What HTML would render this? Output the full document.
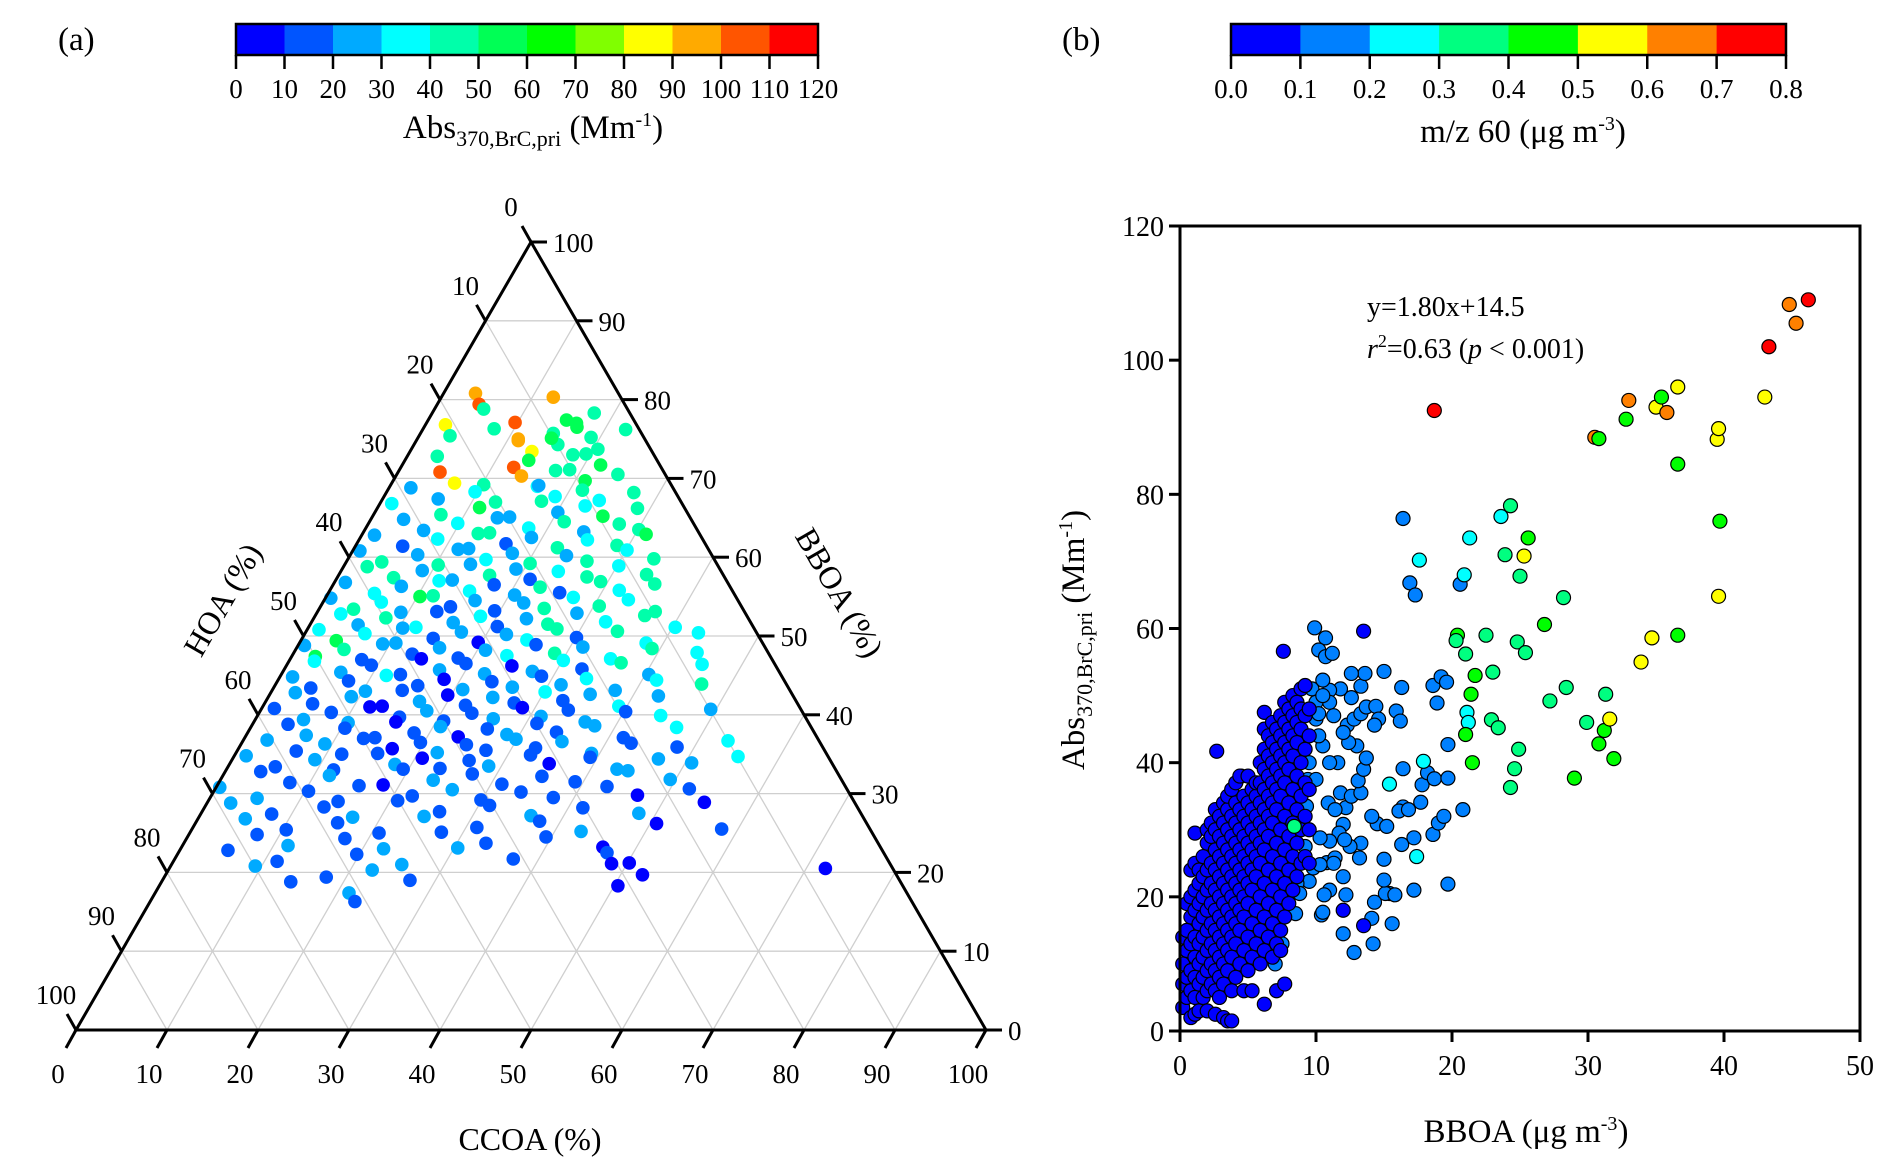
<!DOCTYPE html>
<html><head><meta charset="utf-8"><title>Ternary and scatter plots</title>
<style>
html,body{margin:0;padding:0;background:#fff;}
svg{display:block;font-family:"Liberation Serif","DejaVu Serif",serif;}
</style></head>
<body>
<svg id="fig" width="1892" height="1173" viewBox="0 0 1892 1173" xmlns="http://www.w3.org/2000/svg">
<g id="gA"></g>
<g id="gB"></g>
</svg>
<script>
// ---------- Panel (a) data: BBOA %, CCOA %, Abs370 Mm-1 ----------
const ternBBOA = [80.8,79.4,80.3, 78.8,77.4,78.3,77, 76.8,75.4,76.3,75,77.1,75.7,76.5,75.2,76.2, 74.8,73.4,74.3,73,75.1,73.7, 72.8,71.4,72.3,71,73.1,71.7, 70.8,69.4,70.3,69,71.1,69.7,70.5,69.2, 68.8,67.4,68.3,67,69.1,67.7,68.5,67.2,68.2, 66.8,65.4,66.3,65,67.1,65.7,66.5,65.2,66.2, 64.8,63.4,64.3,63,65.1,63.7,64.5,63.2,64.2,63.5, 62.8,61.4,62.3,61,63.1,61.7,62.5,61.2,62.2,61.5,62.9, 60.8,59.4,60.3,59,61.1,59.7,60.5,59.2,60.2,59.5,60.9,59.8, 58.8,57.4,58.3,57,59.1,57.7,58.5,57.2,58.2,57.5,58.9,57.8, 56.8,55.4,56.3,55,57.1,55.7,56.5,55.2,56.2,55.5,56.9,55.8,56.6, 54.8,53.4,54.3,53,55.1,53.7,54.5,53.2,54.2,53.5,54.9,53.8,54.6,53.1, 52.8,51.4,52.3,51,53.1,51.7,52.5,51.2,52.2,51.5,52.9,51.8,52.6,51.1, 50.8,49.4,50.3,49,51.1,49.7,50.5,49.2,50.2,49.5,50.9,49.8,50.6,49.1,50.4, 48.8,47.4,48.3,47,49.1,47.7,48.5,47.2,48.2,47.5,48.9,47.8,48.6,47.1,48.4,47.9, 46.8,45.4,46.3,45,47.1,45.7,46.5,45.2,46.2,45.5,46.9,45.8,46.6,45.1,46.4, 44.8,43.4,44.3,43,45.1,43.7,44.5,43.2,44.2,43.5,44.9,43.8,44.6,43.1,44.4,43.9, 42.8,41.4,42.3,41,43.1,41.7,42.5,41.2,42.2,41.5,42.9,41.8,42.6,41.1,42.4, 40.8,39.4,40.3,39,41.1,39.7,40.5,39.2,40.2,39.5,40.9,39.8,40.6,39.1,40.4,39.9,40.7, 38.8,37.4,38.3,37,39.1,37.7,38.5,37.2,38.2,37.5,38.9,37.8,38.6,37.1,38.4, 36.8,35.4,36.3,35,37.1,35.7,36.5,35.2,36.2,35.5,36.9,35.8,36.6,35.1,36.4,35.9,36.7, 34.8,33.4,34.3,33,35.1,33.7,34.5,33.2,34.2,33.5,34.9,33.8,34.6,33.1,34.4,33.9,34.7, 32.8,31.4,32.3,31,33.1,31.7,32.5,31.2,32.2,31.5,32.9,31.8, 30.8,29.4,30.3,29,31.1,29.7,30.5,29.2,30.2,29.5,30.9,29.8,30.6, 28.8,27.4,28.3,27,29.1,27.7,28.5,27.2,28.2,27.5,28.9, 26.8,25.4,26.3,25,27.1,25.7,26.5,25.2,26.2,25.5, 24.8,23.4,24.3,23,25.1,23.7,24.5,23.2, 22.8,21.4,22.3,21,23.1,21.7,22.5,21.2, 20.8,19.4,20.3,19,21.1,19.7,20.5, 18.8,17.4,18.3, 16.3];
const ternCCOA = [3.5,4.6,12.3, 5.4,15.2,17.8,16.5, 2.2,3.4,7.8,11.1,9.7,14.6,16.8,19,22.3, 11.2,13.4,15.8,18.1,14.7,20.5, 3.3,12.4,13.6,17.2,19.5,21.8, 4.6,6.9,13.8,16.2,18.7,21.1,24.3,10.2, 2.4,6.1,9.7,12.6,16.3,18.8,21.4,23.9,27.2, 1.3,7.4,11.2,13.8,17.6,20.1,22.7,25.3,28.6, 3.6,6.5,9.8,12.7,15.1,17.9,21.4,24.2,27.6,30.1, 1.4,5.2,8.6,11.5,13.9,16.4,18.8,22.3,25.1,28.7,31.2, 0.8,3.9,7.4,10.3,12.6,15.2,17.7,20.3,23.8,26.4,30.1,33.6, 2.6,6.2,8.9,11.4,13.8,16.6,19.1,21.3,23.9,27.4,30.2,33.8, 1.2,5.1,7.6,10.3,12.8,15.4,17.7,20.6,22.9,25.4,29.2,31.8,35.3, 0.6,3.8,6.4,9.2,11.7,14.3,16.6,19.4,22.1,24.7,27.2,30.6,33.4,37.1, 2.7,5.3,7.9,10.4,13.1,15.6,18.2,20.7,23.4,26.1,28.6,32.3,36.2,40.3, 1.3,3.9,6.6,9.2,11.8,14.4,17.1,19.6,22.2,24.8,27.4,30.1,34.2,38.1,43.2, 0.7,2.6,5.3,7.9,10.6,13.1,15.7,18.4,20.9,23.6,26.1,28.7,31.4,35.2,39.1,44.3, 2.8,6.4,9.3,11.6,14.4,17.1,19.6,22.3,24.8,27.4,30.1,32.7,36.6,40.4,45.6, 1.4,4.1,7.8,10.3,13.1,15.7,18.2,20.9,23.6,26.2,28.7,31.4,33.8,37.7,41.6,46.8, 2.7,5.3,9.1,11.8,14.3,16.9,19.6,22.2,24.7,27.4,30.1,32.6,35.2,39.1,42.8, 1.4,5.3,7.9,10.4,13.1,15.7,18.3,20.8,23.4,26.1,28.6,31.2,33.8,36.4,40.2,44.3,49.4, 3.9,6.6,10.4,13.1,15.6,18.3,20.8,23.4,26.1,28.6,31.2,33.9,37.7,41.6,46.8, 2.6,6.5,9.2,11.7,14.3,16.9,19.6,22.1,24.8,27.3,29.9,32.6,35.1,39.1,42.8,48.1,53.3, 1.3,5.2,9.1,11.8,15.6,18.2,20.8,23.4,26.1,28.6,32.5,35.1,39.2,42.9,46.8,50.7,55.4, 3.9,7.8,11.7,15.6,19.4,23.4,27.3,31.2,35.1,39.1,44.2,49.4, 0.4,5.2,10.4,14.3,18.2,22.1,26.1,29.9,33.8,37.7,42.9,46.8,52.1, 2.6,7.8,13.1,16.9,20.8,26.1,31.2,36.4,41.6,48.1,54.6, 5.2,10.4,15.6,20.8,24.7,31.2,37.7,42.9,50.7,58.2, 7.5,11.6,17.4,22.3,27.6,33.2,39.4,46.3, 5.3,11.4,19.7,25.3,30.4,37.2,47.1,50.2, 9.3,17.8,22.4,27.2,48.3,52.4,72.1, 14.2,21.3,50.4, 22.5];
const ternAbs = [95,105,93,45,55,48,50,82,45,46,95,105,47,55,48,46,96,85,47,48,58,46,44,100,58,46,49,55,105,84,95,35,45,50,47,46,25,22,33,40,25,34,48,37,46,35,47,52,28,46,25,38,55,45,24,26,38,45,25,35,45,25,48,40,22,18,32,27,44,18,26,42,35,47,52,25,40,28,47,24,38,20,42,28,46,38,42,45,42,22,35,27,44,23,12,36,45,30,48,28,38,26,55,22,33,15,26,40,18,42,35,45,22,48,34,24,40,18,28,12,24,46,30,40,36,42,35,27,47,22,15,26,38,16,28,42,25,38,44,32,38,56,30,20,35,12,24,8,20,30,40,18,45,37,33,25,55,40,18,28,14,22,10,25,35,15,42,28,38,45,30,32,22,14,30,8,20,12,28,9,22,36,18,40,28,33,26,18,10,24,12,18,6,22,14,28,10,25,38,20,35,40,22,14,28,8,16,24,9,18,25,12,30,16,22,35,25,18,24,12,20,7,14,22,10,16,24,8,20,14,26,18,30,25,16,22,10,18,6,15,20,9,14,22,12,18,28,15,33,22,14,20,12,18,8,15,22,10,16,26,12,20,24,12,18,32,20,15,24,10,14,20,8,16,12,20,14,8,18,26,22,20,34,18,12,20,16,10,22,12,18,10,14,22,26,28,20,14,18,8,16,24,12,18,10,14,8,16,22,15,10,20,14,16,10,24,12,20,8,24,12,18,10,22,14,12,20,9,14,16,20,12,24,14,18,10,8,18,12,16,24,20,14,10,6,24,10,20,16,8,9,7,14,26,6,12];
const ternTicks = [0,10,20,30,40,50,60,70,80,90,100];
const absBinEdges = [0,10,20,30,40,50,60,70,80,90,100,110,120];
const absColors = ["#0000ff","#0055ff","#00aaff","#00ffff","#00ffaa","#00ff55","#00ff00","#80ff00","#ffff00","#ffaa00","#ff5500","#ff0000"];

// ---------- Panel (b) data ----------
const blueColX = [0.2,0.5,0.8,1.1,1.4,1.7,2.0,2.3,2.6,2.9,3.2,3.5,3.8,4.1,4.4,4.7,5.0,5.3,5.6,5.9,6.2,6.5,6.8,7.1,7.4,7.7,8.0,8.3,8.6,8.9,9.2,9.5];
const blueColY = [[3.5,7,10,14],[5,8,12,15,19],[2,6,9,13,17,20,24],[2.5,5,8,11,14,18,21,25,29.5],[3,7,10,13,16,19,22,24],[5,8,11,14,17,20,23,26],[3,6,9,12,15,18,21,24,28,30],[7,10,13,16,19,22,25,29,31],[2.5,6,9,12,15,18,21,24,27,30,33],[5,8,11,14,17,20,23,26,29,32],[2,7,10,13,16,19,22,25,28,31,34],[1.5,9,12,15,18,21,24,27,30,33,35],[1.5,6,11,14,17,20,23,26,29,32,36],[8,13,16,19,22,25,28,31,34,37],[10,15,18,21,24,27,30,33,38],[6,12,17,20,23,26,29,32,35],[9,14,19,22,25,28,31,34,38],[6,11,16,21,24,27,30,33,36],[13,18,23,26,29,32,35,37],[10,15,20,25,28,31,34,37,40],[4,12,17,22,27,30,33,36,39,42,45,47.5],[14,19,24,29,32,35,38,41,44],[11,16,21,26,31,34,37,40,43,46],[6,13,18,23,28,33,36,39,42,45],[12,15,20,25,30,35,38,41,44,47],[7,17,22,27,32,37,40,43,46,49],[19,24,29,34,39,42,45,48],[21,26,31,36,41,44,47,50],[23,28,33,38,43,46,49],[25,30,35,40,45,48,51],[26,32,37,42,47,51.5],[25,30,36,44,48]];
const blueExtraX = [13.5,7.6,2.7,13.5,12.0];
const blueExtraY = [59.6,56.6,41.7,15.7,18.0];
const blueMz = 0.05;
const midX = [9.9,10.7,10.2,10.7,11.2,15,16.3,15.9,16.2,16.4,16.4,16.1,16.3,17.2,15.4,15.1,15.8,15.6,14.2,12.8,12,14.1,14.3,15,15,16.8,17.7,17.8,18.2,18.7,19.7,19.7,18.9,18.6,19.2,19.6,17.2,18.6,19,19.4,20.8,19.7,14.5,15.2,14.1,13.3,13.2,12.5,12,12.2,11.8,12.6,13.3,13.1,13.5,13.7,13,12.4,12.3,12.8,13.3,13.7,14.4,14.6,14.3,12.6,13.3,13.6,12.6,11.8,11,10.5,11,11.3,12,11.6,11,10.5,10.2,10,10.9,11.4,11.7,12.1,11,10.3,10.8,11.4,11.3,12,12.2,11,10.4,10.5,10.6,9.5,9.8,10.3,9.2,9.3,9.4,10,9.5,9,10,9.7,10.5,10.2,8,8.6,8.5,8.8,7,7,7.5,7.3,6.8,6.2,7.5,8,8.2,8.5,8.2,7.8,6.8,6.5,4.5,5.5,6,5.7,16.4,16.9,17.3,20.6];
const midY = [60.1,58.6,56.8,55.8,56.3,53.6,51.2,47.7,46.2,39.1,33.4,32.8,27.8,21,20.5,20.5,20.3,16,13,11.7,14.5,16.8,19.2,22.5,25.6,33,34.1,36.7,38.5,37.6,37.7,42.7,48.9,51.5,52.8,52,28.8,29.3,31,32,33,21.9,30.9,30.5,32,28,25.8,27.5,30.8,33.3,35.5,35,35.5,37.3,39,40.7,42.5,43,45.6,46.5,47.3,48.3,48.4,46.5,45.6,49.7,51.4,53.3,53.3,51,50.8,52.3,49,47,44.5,40,40,42.5,44,46.5,34,33,29.5,28.5,28.3,28.8,25.1,25.8,25,23,20.3,21,17.3,17.7,20.3,22.3,24.3,24.8,27.5,33.5,37.5,37.5,40,43,49,51,50,47.3,25,22,17.5,20.5,15.5,10,13,21.3,22.5,24.5,28,30.5,34,36,38,42,40,37.5,38,36,32,30,76.4,66.8,65,66.6];
const midMz = 0.15;
const hiX = [18.7,30.5,30.8,32.8,33,35,35.4,35.8,36.6,36.6,39.5,39.6,39.7,39.6,43,43.3,44.8,45.3,46.2,17.6,20.9,21.3,23.6,24.3,23.9,25.3,25,25.6,28.2,26.8,20.4,20.3,21,22.5,24.8,25.4,21.7,23,21.4,21.1,21.2,21,21.5,22.9,23.4,24.9,24.6,24.3,27.2,28.4,29.9,31.3,31.2,30.8,31.9,31.6,29,33.9,34.7,36.6,17.4,17.9,15.4,8.4];
const hiY = [92.5,88.5,88.3,91.2,94,93,94.5,92.2,96,84.5,88.2,89.8,76,64.8,94.5,102,108.3,105.5,109,70.2,68,73.5,76.7,78.3,71,70.8,67.8,73.5,64.6,60.6,59,58.2,56.2,59,58,56.4,53,53.5,50.2,47.5,46,44.2,40,46.4,45.2,42,39.1,36.3,49.2,51.2,46,50.2,44.8,42.8,40.6,46.5,37.7,55,58.6,59,26,40.2,36.8,30.5];
const hiMz = [0.75,0.65,0.45,0.45,0.65,0.55,0.45,0.65,0.55,0.45,0.55,0.55,0.45,0.55,0.55,0.75,0.65,0.65,0.75,0.25,0.25,0.25,0.25,0.35,0.35,0.55,0.35,0.45,0.35,0.45,0.45,0.35,0.35,0.35,0.35,0.35,0.45,0.35,0.45,0.25,0.25,0.45,0.45,0.35,0.35,0.35,0.35,0.35,0.35,0.35,0.35,0.35,0.45,0.45,0.45,0.55,0.45,0.55,0.55,0.45,0.25,0.25,0.25,0.35];
const xTicksB = [0,10,20,30,40,50];
const yTicksB = [0,20,40,60,80,100,120];
const mzBinEdges = [0.0,0.1,0.2,0.3,0.4,0.5,0.6,0.7,0.8];
const mzColors = ["#0000ff","#0080ff","#00ffff","#00ff80","#00ff00","#ffff00","#ff8000","#ff0000"];

const NS = "http://www.w3.org/2000/svg";
function mk(parent, tag, attrs, text){
  const e = document.createElementNS(NS, tag);
  for (const k in attrs) e.setAttribute(k, attrs[k]);
  if (text !== undefined) e.textContent = text;
  parent.appendChild(e);
  return e;
}
const gA = document.getElementById('gA');
const gB = document.getElementById('gB');

function colorbar(g, x0, x1, y0, y1, edges, colors, fmt, nameBase){
  const n = colors.length, w = (x1 - x0) / n;
  for (let i = 0; i < n; i++){
    const r = mk(g, 'rect', {x: x0 + i*w, y: y0, width: w + 0.5, height: y1 - y0, fill: colors[i]});
    
    
  }
  const fr = mk(g, 'rect', {x: x0, y: y0, width: x1 - x0, height: y1 - y0, fill: 'none', stroke: '#000', 'stroke-width': 2.5});
  
  
  for (let i = 0; i < edges.length; i++){
    const x = x0 + i*w;
    const t = mk(g, 'line', {x1: x, y1: y1, x2: x, y2: y1 + 14, stroke: '#000', 'stroke-width': 2.5});
    
    
    const l = mk(g, 'text', {x: x, y: y1 + 43, 'font-size': 27, 'text-anchor': 'middle'}, fmt(edges[i]));
    
    
  }
}

// ===== Panel (a): ternary =====
const AP = {x: 531, y: 242}, BL = {x: 76, y: 1030}, BR = {x: 986, y: 1030};
function tern(B, C){
  return {x: BL.x + C/100*(BR.x - BL.x) + B/100*(AP.x - BL.x),
          y: BL.y + B/100*(AP.y - BL.y)};
}
function binColor(v, edges, colors){
  let i = Math.floor((v - edges[0]) / (edges[1] - edges[0]));
  i = Math.max(0, Math.min(colors.length - 1, i));
  return colors[i];
}
for (let k = 1; k < 10; k++){
  const v = ternTicks[k];
  const segs = [[tern(v,0), tern(v,100-v)], [tern(0,v), tern(100-v,v)], [tern(0,100-v), tern(100-v,0)]];
  for (const s of segs){
    const ln = mk(gA, 'line', {x1: s[0].x, y1: s[0].y, x2: s[1].x, y2: s[1].y, stroke: '#cfcfcf', 'stroke-width': 1.3});
    
    
  }
}
for (let i = 0; i < ternBBOA.length; i++){
  const p = tern(ternBBOA[i], ternCCOA[i]);
  const c = mk(gA, 'circle', {cx: p.x, cy: p.y, r: 6.8, fill: binColor(ternAbs[i], absBinEdges, absColors)});
  
  
}
const tri = mk(gA, 'polygon', {points: `${AP.x},${AP.y} ${BL.x},${BL.y} ${BR.x},${BR.y}`, fill: 'none', stroke: '#000', 'stroke-width': 3});


for (let k = 0; k < ternTicks.length; k++){
  const v = ternTicks[k];
  let p = tern(0, v);
  let t = mk(gA, 'line', {x1: p.x, y1: p.y, x2: p.x - 10, y2: p.y + 18, stroke: '#000', 'stroke-width': 3});
  
  
  let l = mk(gA, 'text', {x: p.x - 18, y: p.y + 53, 'font-size': 27, 'text-anchor': 'middle'}, String(v));
  
  
  p = tern(v, 100 - v);
  t = mk(gA, 'line', {x1: p.x, y1: p.y, x2: p.x + 16, y2: p.y, stroke: '#000', 'stroke-width': 3});
  
  
  l = mk(gA, 'text', {x: p.x + 22, y: p.y + 10, 'font-size': 27, 'text-anchor': 'start'}, String(v));
  
  
  p = tern(100 - v, 0);
  t = mk(gA, 'line', {x1: p.x, y1: p.y, x2: p.x - 9, y2: p.y - 16, stroke: '#000', 'stroke-width': 3});
  
  
  l = mk(gA, 'text', {x: p.x - 20, y: p.y - 26, 'font-size': 27, 'text-anchor': 'middle'}, String(v));
  
  
}
let tt = mk(gA, 'text', {x: 530, y: 1150, 'font-size': 32, 'text-anchor': 'middle'}, 'CCOA (%)');


tt = mk(gA, 'text', {x: 0, y: 0, 'font-size': 32, 'text-anchor': 'middle', transform: 'translate(232,605) rotate(-60)'}, 'HOA (%)');


tt = mk(gA, 'text', {x: 0, y: 0, 'font-size': 32, 'text-anchor': 'middle', transform: 'translate(830,598) rotate(60)'}, 'BBOA (%)');


colorbar(gA, 236, 818, 24, 55, absBinEdges, absColors, v => String(v), 'abs-colorbar');
tt = mk(gA, 'text', {x: 58, y: 50, 'font-size': 33}, '(a)');


tt = mk(gA, 'text', {x: 533, y: 138, 'font-size': 33, 'text-anchor': 'middle'});


tt.innerHTML = 'Abs<tspan font-size="22" dy="8">370,BrC,pri</tspan><tspan dy="-8"> (Mm</tspan><tspan font-size="20" dy="-12">-1</tspan><tspan dy="12">)</tspan>';

// ===== Panel (b): scatter =====
const PX0 = 1180, PX1 = 1860, PY0 = 1031, PY1 = 226;
const xs = v => PX0 + v/50*(PX1 - PX0);
const ys = v => PY0 - v/120*(PY0 - PY1);
function dot(x, y, mz){
  const c = mk(gB, 'circle', {cx: xs(x), cy: ys(y), r: 7, fill: binColor(mz, mzBinEdges, mzColors), stroke: '#000', 'stroke-width': 1.2});
  
  
}
for (let i = 0; i < midX.length; i++) dot(midX[i], midY[i], midMz);
for (let i = 0; i < blueColX.length; i++)
  for (let j = 0; j < blueColY[i].length; j++) dot(blueColX[i], blueColY[i][j], blueMz);
for (let i = 0; i < blueExtraX.length; i++) dot(blueExtraX[i], blueExtraY[i], blueMz);
for (let i = 0; i < hiX.length; i++) dot(hiX[i], hiY[i], hiMz[i]);
const frame = mk(gB, 'rect', {x: PX0, y: PY1, width: PX1 - PX0, height: PY0 - PY1, fill: 'none', stroke: '#000', 'stroke-width': 3});


for (const v of xTicksB){
  const t = mk(gB, 'line', {x1: xs(v), y1: PY0, x2: xs(v), y2: PY0 + 11, stroke: '#000', 'stroke-width': 3});
  
  
  const l = mk(gB, 'text', {x: xs(v), y: PY0 + 44, 'font-size': 28, 'text-anchor': 'middle'}, String(v));
  
  
}
for (const v of yTicksB){
  const t = mk(gB, 'line', {x1: PX0 - 11, y1: ys(v), x2: PX0, y2: ys(v), stroke: '#000', 'stroke-width': 3});
  
  
  const l = mk(gB, 'text', {x: PX0 - 16, y: ys(v) + 10, 'font-size': 28, 'text-anchor': 'end'}, String(v));
  
  
}
tt = mk(gB, 'text', {x: 1367, y: 316, 'font-size': 28}, 'y=1.80x+14.5');


tt = mk(gB, 'text', {x: 1367, y: 358, 'font-size': 28});


tt.innerHTML = '<tspan font-style="italic">r</tspan><tspan font-size="18" dy="-11">2</tspan><tspan dy="11">=0.63 (</tspan><tspan font-style="italic">p</tspan><tspan> &lt; 0.001)</tspan>';
tt = mk(gB, 'text', {x: 1526, y: 1142, 'font-size': 33, 'text-anchor': 'middle'});


tt.innerHTML = 'BBOA (μg m<tspan font-size="20" dy="-12">-3</tspan><tspan dy="12">)</tspan>';
tt = mk(gB, 'text', {x: 0, y: 0, 'font-size': 33, 'text-anchor': 'middle', transform: 'translate(1084,640) rotate(-90)'});


tt.innerHTML = 'Abs<tspan font-size="22" dy="8">370,BrC,pri</tspan><tspan dy="-8"> (Mm</tspan><tspan font-size="20" dy="-12">-1</tspan><tspan dy="12">)</tspan>';
colorbar(gB, 1231, 1786, 24, 55, mzBinEdges, mzColors, v => v.toFixed(1), 'mz60-colorbar');
tt = mk(gB, 'text', {x: 1062, y: 50, 'font-size': 33}, '(b)');


tt = mk(gB, 'text', {x: 1523, y: 142, 'font-size': 33, 'text-anchor': 'middle'});


tt.innerHTML = 'm/z 60 (μg m<tspan font-size="20" dy="-12">-3</tspan><tspan dy="12">)</tspan>';
</script>
</body></html>
